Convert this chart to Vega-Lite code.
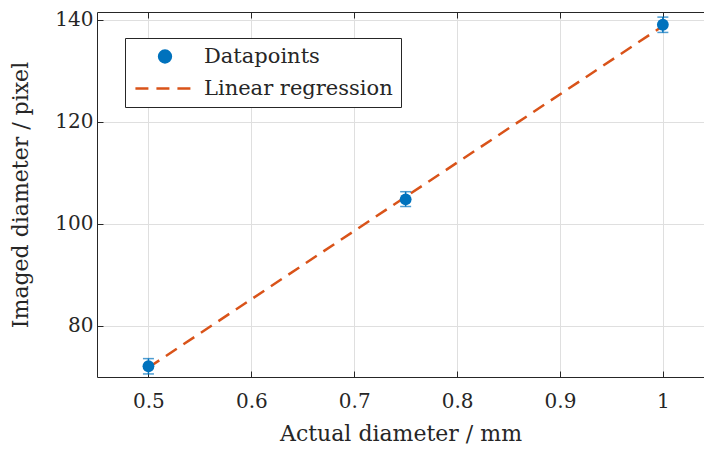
{
  "$schema": "https://vega.github.io/schema/vega-lite/v6.json",
  "autosize": "none",
  "width": 607,
  "height": 365,
  "padding": {"left": 97, "top": 12, "right": 0, "bottom": 73},
  "background": "white",
  "config": {
    "view": {"stroke": null},
    "font": "DejaVu Serif",
    "axis": {
      "domainColor": "#262626",
      "tickColor": "#262626",
      "labelColor": "#262626",
      "titleColor": "#262626",
      "gridColor": "#dfdfdf",
      "gridWidth": 1,
      "tickSize": -6,
      "labelFont": "DejaVu Serif",
      "titleFont": "DejaVu Serif",
      "labelFontSize": 20,
      "titleFontSize": 22,
      "titleFontWeight": "normal"
    }
  },
  "datasets": {
    "points": [
      {"d": 0.5, "y": 72.1, "ymin": 70.6, "ymax": 73.6, "series": "Datapoints"},
      {"d": 0.75, "y": 104.8, "ymin": 103.4, "ymax": 106.3, "series": "Datapoints"},
      {"d": 1.0, "y": 139.0, "ymin": 137.5, "ymax": 140.5, "series": "Datapoints"}
    ],
    "fit": [
      {"d": 0.5, "y": 71.85, "series": "Linear regression"},
      {"d": 1.0, "y": 138.75, "series": "Linear regression"}
    ]
  },
  "layer": [
    {
      "data": {"name": "fit"},
      "mark": {"type": "line", "strokeWidth": 2.5, "strokeDash": [13, 8], "clip": true},
      "encoding": {
        "x": {
          "field": "d", "type": "quantitative",
          "scale": {"domain": [0.45, 1.04], "nice": false, "zero": false},
          "axis": {"orient": "top", "labels": false, "title": null, "grid": false, "values": [0.5, 0.6, 0.7, 0.8, 0.9, 1.0]}
        },
        "y": {
          "field": "y", "type": "quantitative",
          "scale": {"domain": [70, 141.5], "nice": false, "zero": false}
        },
        "color": {
          "field": "series", "type": "nominal",
          "scale": {"domain": ["Datapoints", "Linear regression"], "range": ["#0072BD", "#D95319"]},
          "legend": {
            "title": null,
            "orient": "none",
            "legendX": 28,
            "legendY": 26,
            "strokeColor": "#262626",
            "fillColor": "white",
            "padding": 8,
            "rowPadding": 9,
            "symbolSize": 140,
            "symbolType": "circle",
            "symbolStrokeWidth": 2.5,
            "labelFontSize": 21,
            "labelFont": "DejaVu Serif",
            "labelColor": "#262626",
            "labelLimit": 0,
            "labelOffset": 50,
            "encode": {
              "symbols": {
                "update": {
                  "x": {"value": 32},
                  "shape": {"signal": "datum.value === 'Datapoints' ? 'circle' : 'M -5 0 L 5 0'"},
                  "fill": {"signal": "datum.value === 'Datapoints' ? '#0072BD' : 'transparent'"},
                  "stroke": {"signal": "datum.value === 'Datapoints' ? 'transparent' : '#D95319'"},
                  "strokeDash": {"signal": "datum.value === 'Datapoints' ? [] : [13, 8]"},
                  "strokeWidth": {"value": 2.5},
                  "opacity": {"value": 1}
                }
              }
            }
          }
        }
      }
    },
    {
      "data": {"name": "points"},
      "mark": {"type": "errorbar", "color": "#0072BD", "thickness": 1.5, "ticks": {"size": 11, "thickness": 1.5, "color": "#0072BD"}},
      "encoding": {
        "x": {
          "field": "d", "type": "quantitative",
          "axis": {"orient": "bottom", "title": "Actual diameter / mm", "grid": true, "format": "~g", "values": [0.5, 0.6, 0.7, 0.8, 0.9, 1.0], "labelPadding": 20, "titlePadding": 12}
        },
        "y": {
          "field": "ymin", "type": "quantitative",
          "axis": {"orient": "left", "title": "Imaged diameter / pixel", "grid": true, "values": [80, 100, 120, 140], "labelPadding": 10, "titlePadding": 22}
        },
        "y2": {"field": "ymax"}
      }
    },
    {
      "data": {"name": "points"},
      "mark": {"type": "point", "filled": true, "size": 140, "opacity": 1},
      "encoding": {
        "x": {"field": "d", "type": "quantitative", "axis": null},
        "y": {"field": "y", "type": "quantitative"},
        "color": {"field": "series", "type": "nominal"}
      }
    }
  ]
}
